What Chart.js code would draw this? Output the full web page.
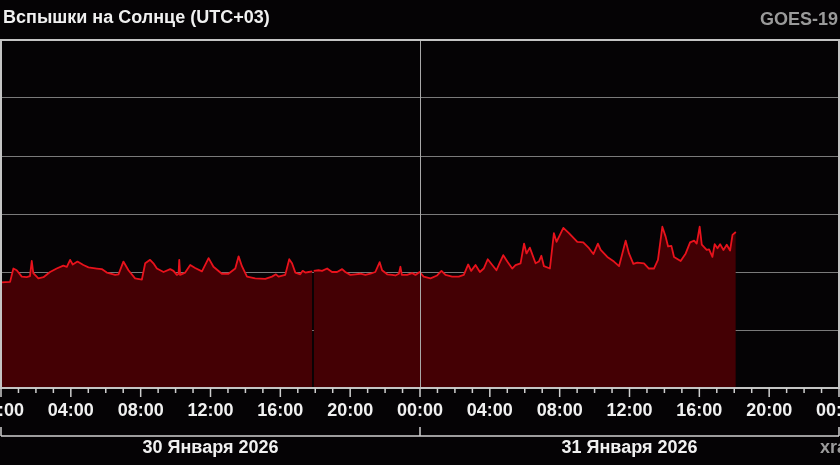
<!DOCTYPE html>
<html>
<head>
<meta charset="utf-8">
<script src="https://cdn.jsdelivr.net/npm/chart.js@4"></script>
<style>
  body { margin: 0; background: #050305; }
  canvas { display: block; }
</style>
</head>
<body>
<canvas id="flares" width="840" height="465"></canvas>
<script>
// Chart data: hours since 30 Jan 00:00 (UTC+03) and log10 of X-ray flux
const hours = [
  0, 0.52, 0.71, 0.90, 1.19, 1.47, 1.66, 1.76, 1.85, 2.14, 2.43, 2.81, 3.19, 3.57, 3.77, 3.96,
  4.11, 4.38, 4.72, 5.01, 5.49, 5.77, 6.06, 6.54, 6.73, 7.01, 7.30, 7.68, 8.07, 8.26, 8.54, 8.73,
  8.93, 9.31, 9.69, 9.88, 10.07, 10.17, 10.21, 10.26, 10.55, 10.84, 11.12, 11.51, 11.89, 12.17, 12.65, 13.03,
  13.42, 13.61, 13.80, 14.09, 14.56, 15.14, 15.52, 15.75, 15.90, 16.28, 16.51, 16.67, 16.86, 17.14, 17.28, 17.43,
  17.62, 17.83, 17.87, 17.91, 18.19, 18.39, 18.68, 18.96, 19.25, 19.54, 19.72, 20.01, 20.30, 20.58, 20.87, 21.16,
  21.44, 21.69, 21.83, 22.12, 22.40, 22.59, 22.79, 22.88, 22.96, 23.26, 23.55, 23.74, 23.98, 24.21, 24.60, 24.98,
  25.23, 25.46, 25.84, 26.22, 26.51, 26.76, 26.93, 27.18, 27.43, 27.65, 27.88, 28.14, 28.38, 28.57, 28.77, 29.00,
  29.28, 29.47, 29.76, 29.96, 30.10, 30.29, 30.62, 30.81, 30.95, 31.10, 31.44, 31.67, 31.82, 32.21, 32.53, 33.01,
  33.35, 33.68, 33.93, 34.19, 34.35, 34.73, 35.11, 35.40, 35.59, 35.78, 35.97, 36.22, 36.45, 36.83, 37.11, 37.40,
  37.63, 37.88, 38.07, 38.21, 38.40, 38.55, 38.93, 39.22, 39.47, 39.70, 39.85, 40.02, 40.14, 40.42, 40.56, 40.75,
  40.88, 41.04, 41.19, 41.38, 41.57, 41.76, 41.90, 42.09
];
const logFlux = [
  -7.18, -7.17, -6.94, -6.97, -7.08, -7.09, -7.07, -6.81, -7.02, -7.11, -7.09, -7.00, -6.94, -6.89, -6.91, -6.79,
  -6.87, -6.82, -6.88, -6.92, -6.94, -6.95, -7.01, -7.05, -7.04, -6.82, -6.97, -7.11, -7.13, -6.85, -6.79, -6.85,
  -6.94, -7.00, -6.95, -6.98, -7.05, -7.03, -6.79, -7.05, -7.01, -6.88, -6.93, -6.99, -6.76, -6.91, -7.03, -7.03,
  -6.94, -6.73, -6.90, -7.08, -7.11, -7.12, -7.08, -7.04, -7.08, -7.05, -6.78, -6.85, -7.01, -7.04, -6.98, -7.01,
  -7.00, -6.99, null, -6.98, -6.97, -6.98, -6.94, -7.00, -7.00, -6.95, -7.00, -7.05, -7.04, -7.03, -7.05, -7.03,
  -7.00, -6.83, -6.97, -7.04, -7.05, -7.06, -7.03, -6.91, -7.05, -7.05, -7.02, -7.05, -7.00, -7.08, -7.11, -7.06,
  -6.98, -7.05, -7.08, -7.08, -7.05, -6.87, -6.98, -6.88, -7.00, -6.94, -6.78, -6.88, -6.97, -6.84, -6.71, -6.82,
  -6.94, -6.88, -6.85, -6.51, -6.68, -6.58, -6.85, -6.82, -6.72, -6.90, -6.94, -6.33, -6.48, -6.24, -6.33, -6.48,
  -6.49, -6.59, -6.69, -6.51, -6.62, -6.74, -6.82, -6.90, -6.68, -6.46, -6.68, -6.86, -6.84, -6.85, -6.94, -6.94,
  -6.79, -6.22, -6.39, -6.56, -6.55, -6.74, -6.81, -6.68, -6.49, -6.46, -6.51, -6.22, -6.53, -6.62, -6.61, -6.74,
  -6.52, -6.59, -6.52, -6.62, -6.53, -6.63, -6.36, -6.31
];

const hourTicks = Array.from({ length: 49 }, (_, i) => i);
const labelTicks = [0, 4, 8, 12, 16, 20, 24, 28, 32, 36, 40, 44, 48];
const dayLabels = ['30 Января 2026', '31 Января 2026'];
const title = 'Вспышки на Солнце (UTC+03)';
const satellite = 'GOES-19';
const source = 'xras.ru';

const FONT = 'bold 18px "Liberation Sans", Arial, sans-serif';

// Custom decorations: frame, day separator, hour ticks, labels
const decor = {
    id: 'decor',
    afterDatasetsDraw(chart) {
        const { ctx, chartArea: a, scales: { x } } = chart;
        ctx.save();
        // day separator line
        ctx.strokeStyle = '#a8a8a8';
        ctx.lineWidth = 1;
        ctx.beginPath();
        ctx.moveTo(Math.round(x.getPixelForValue(24)) + 0.5, a.top);
        ctx.lineTo(Math.round(x.getPixelForValue(24)) + 0.5, a.bottom);
        ctx.stroke();
        // frame
        ctx.strokeStyle = '#c4c4c4';
        ctx.lineWidth = 2;
        ctx.strokeRect(a.left, a.top, a.right - a.left, a.bottom - a.top);
        ctx.restore();
    },
    afterDraw(chart) {
        const { ctx, chartArea: a, scales: { x } } = chart;
        ctx.save();
        // hour ticks
        ctx.strokeStyle = '#cfcfcf';
        ctx.lineWidth = 1.5;
        hourTicks.forEach(h => {
            const px = x.getPixelForValue(h);
            ctx.beginPath();
            ctx.moveTo(px, a.bottom);
            ctx.lineTo(px, a.bottom + (h % 4 === 0 ? 9 : 5));
            ctx.stroke();
        });
        // hour labels
        ctx.font = FONT;
        ctx.fillStyle = '#f0f0f0';
        ctx.textAlign = 'center';
        ctx.textBaseline = 'middle';
        labelTicks.forEach(h => {
            const hh = String(h % 24).padStart(2, '0');
            ctx.fillText(hh + ':00', x.getPixelForValue(h), 411);
        });
        // date bracket
        ctx.strokeStyle = '#cfcfcf';
        ctx.lineWidth = 1.5;
        ctx.beginPath();
        ctx.moveTo(x.getPixelForValue(0), 436);
        ctx.lineTo(x.getPixelForValue(48), 436);
        [0, 24, 48].forEach(h => {
            const px = x.getPixelForValue(h);
            ctx.moveTo(px, 427);
            ctx.lineTo(px, 436);
        });
        ctx.stroke();
        dayLabels.forEach((d, i) => {
            ctx.fillText(d, x.getPixelForValue(12 + 24 * i), 448);
        });
        // title and captions
        ctx.textAlign = 'left';
        ctx.fillText(title, 3, 18);
        ctx.fillStyle = '#9a9a9a';
        ctx.fillText(source, 820, 448);
        ctx.textAlign = 'right';
        ctx.fillText(satellite, 838, 20);
        ctx.restore();
    }
};

new Chart(document.getElementById('flares'), {
    type: 'line',
    data: {
        datasets: [{
            data: hours.map((h, i) => ({ x: h, y: logFlux[i] })),
            borderColor: '#e8121c',
            borderWidth: 1.8,
            borderJoinStyle: 'round',
            backgroundColor: '#440004',
            fill: 'start',
            pointRadius: 0,
            tension: 0,
            spanGaps: false
        }]
    },
    options: {
        responsive: false,
        animation: false,
        layout: { padding: { left: 1, right: 1, top: 40, bottom: 77 } },
        plugins: { legend: { display: false }, tooltip: { enabled: false } },
        scales: {
            x: {
                type: 'linear',
                min: 0,
                max: 48,
                ticks: { display: false, stepSize: 4 },
                grid: { display: false, drawTicks: false },
                border: { display: false }
            },
            y: {
                min: -9,
                max: -3,
                ticks: { display: false, stepSize: 1 },
                grid: { color: '#7a7a7a', lineWidth: 1, drawTicks: false },
                border: { display: false }
            }
        }
    },
    plugins: [decor]
});
</script>
</body>
</html>
